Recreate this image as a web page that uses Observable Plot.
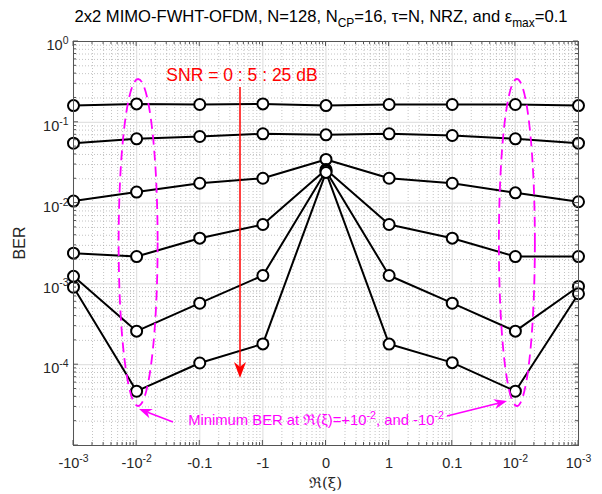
<!DOCTYPE html>
<html>
<head>
<meta charset="utf-8">
<script src="https://cdn.jsdelivr.net/npm/d3@7"></script>
<script src="https://cdn.jsdelivr.net/npm/@observablehq/plot@0.6"></script>
<style>
  body { margin: 0; background: #fff; }
  svg { display: block; }
</style>
</head>
<body>
<div id="chart"></div>
<script>
// Real part of the frequency offset, swept over a symmetric log-like scale
const categories = ["-10^{-3}", "-10^{-2}", "-0.1", "-1", "0", "1", "0.1", "10^{-2}", "10^{-3}"];
const snrValues = [0, 5, 10, 15, 20, 25];

// BER per SNR (dB), one value per category above
const ber0  = [0.161, 0.169, 0.166, 0.169, 0.161, 0.166, 0.166, 0.166, 0.161];
const ber5  = [0.0551, 0.0625, 0.0667, 0.0721, 0.0700, 0.0721, 0.0687, 0.0625, 0.0551];
const ber10 = [0.0106, 0.0137, 0.0176, 0.0203, 0.0347, 0.0203, 0.0176, 0.0134, 0.0104];
const ber15 = [0.00240, 0.00218, 0.00368, 0.00543, 0.0260, 0.00543, 0.00368, 0.00218, 0.00218];
const ber20 = [0.00124, 0.000260, 0.000577, 0.00127, 0.0250, 0.00127, 0.000577, 0.000260, 0.00093];
const ber25 = [0.00091, 0.0000470, 0.000105, 0.000181, 0.0240, 0.000180, 0.000106, 0.0000470, 0.000755];

const yTickValues = [1, 1e-1, 1e-2, 1e-3, 1e-4];

const berSeries = [ber0, ber5, ber10, ber15, ber20, ber25];
const rows = berSeries.flatMap((s, k) => s.map((v, i) => ({i, snr: snrValues[k], ber: v})));

const decades = [1e-5, 1e-4, 1e-3, 1e-2, 1e-1, 1];
const steps = [2, 3, 4, 5, 6, 7, 8, 9];
const minorY = decades.slice(0, -1).flatMap(d => steps.map(k => k * d));
const majorX = d3.range(categories.length);
const minorX = d3.range(categories.length - 1).flatMap(i => steps.map(k => i + Math.log10(k)));

const FONT = "'Liberation Sans', Arial, Helvetica, sans-serif";
const TICK = 14.5;

const plot = Plot.plot({
  width: 602,
  height: 494,
  marginTop: 41,
  marginRight: 24,
  marginBottom: 49,
  marginLeft: 73,
  style: {fontFamily: FONT, fontSize: TICK + "px", color: "#262626", background: "white"},
  x: {type: "linear", domain: [0, categories.length - 1]},
  y: {type: "log", domain: [1e-5, 1]},
  marks: [
    Plot.ruleX(minorX, {stroke: "#9a9a9a", strokeDasharray: "1,2", strokeWidth: 0.6}),
    Plot.ruleY(minorY, {stroke: "#9a9a9a", strokeDasharray: "1,2", strokeWidth: 0.6}),
    Plot.ruleX(majorX, {stroke: "#e2e2e2", strokeWidth: 1.2}),
    Plot.ruleY(decades, {stroke: "#e2e2e2", strokeWidth: 1.2}),
    Plot.axisX({ticks: majorX, tickSize: 0, tickPadding: 12, tickFormat: i => categories[i], label: null}),
    Plot.axisY({ticks: yTickValues, tickSize: 0, tickPadding: 5,
      tickFormat: d => `10^{${Math.round(Math.log10(d))}}`, label: null}),
    Plot.line(rows, {x: "i", y: "ber", z: "snr", stroke: "black", strokeWidth: 2}),
    Plot.dot(rows, {x: "i", y: "ber", r: 5.5, fill: "white", stroke: "black", strokeWidth: 2}),
    Plot.frame({stroke: "#555", strokeWidth: 1})
  ]
});

document.getElementById("chart").append(plot);

const svg = d3.select(plot);
const xs = plot.scale("x"), ys = plot.scale("y");
const X = v => xs.apply(v), Y = v => ys.apply(v);
const edgeL = X(0), edgeR = X(categories.length - 1), edgeT = Y(1), edgeB = Y(1e-5);

// Text with ^{..} superscripts and _{..} subscripts
function rich(sel, str, size) {
  sel.text(null);
  const re = /(\^|_)\{([^}]*)\}/g;
  let last = 0, m, shift = 0;
  const add = (txt, level) => {
    if (!txt) return;
    const ts = sel.append("tspan").text(txt);
    const target = level === "^" ? -0.42 * size : level === "_" ? 0.3 * size : 0;
    const dy = target - shift;
    if (dy) ts.attr("dy", dy);
    if (level) ts.attr("font-size", size * 0.72);
    shift = target;
  };
  while ((m = re.exec(str))) {
    add(str.slice(last, m.index), null);
    add(m[2], m[1]);
    last = re.lastIndex;
  }
  add(str.slice(last), null);
}

svg.selectAll('g[aria-label="x-axis tick label"] text').each(function() {
  rich(d3.select(this), this.textContent, TICK);
});
svg.selectAll('g[aria-label="y-axis tick label"] text').each(function() {
  rich(d3.select(this), this.textContent, TICK);
  const t = this.getAttribute("transform") || "";
  this.setAttribute("transform", t + " translate(0,4)");
});

// Inward ticks on all four sides
const tickLayer = svg.append("g").attr("stroke", "#555").attr("stroke-width", 1);
majorX.forEach(i => {
  tickLayer.append("line").attr("x1", X(i)).attr("x2", X(i)).attr("y1", edgeB).attr("y2", edgeB - 5);
  tickLayer.append("line").attr("x1", X(i)).attr("x2", X(i)).attr("y1", edgeT).attr("y2", edgeT + 5);
});
minorX.forEach(v => {
  tickLayer.append("line").attr("x1", X(v)).attr("x2", X(v)).attr("y1", edgeB).attr("y2", edgeB - 3);
  tickLayer.append("line").attr("x1", X(v)).attr("x2", X(v)).attr("y1", edgeT).attr("y2", edgeT + 3);
});
decades.forEach(d => {
  tickLayer.append("line").attr("x1", edgeL).attr("x2", edgeL + 5).attr("y1", Y(d)).attr("y2", Y(d));
  tickLayer.append("line").attr("x1", edgeR).attr("x2", edgeR - 5).attr("y1", Y(d)).attr("y2", Y(d));
});
minorY.forEach(d => {
  tickLayer.append("line").attr("x1", edgeL).attr("x2", edgeL + 3).attr("y1", Y(d)).attr("y2", Y(d));
  tickLayer.append("line").attr("x1", edgeR).attr("x2", edgeR - 3).attr("y1", Y(d)).attr("y2", Y(d));
});

// Title and axis labels
const title = svg.append("text").attr("x", 321).attr("y", 22).attr("text-anchor", "middle")
  .attr("font-family", FONT).attr("font-size", 16.6).attr("fill", "#000");
rich(title, "2x2 MIMO-FWHT-OFDM, N=128, N_{CP}=16, \u03C4=N, NRZ, and \u03B5_{max}=0.1", 16.6);

svg.append("text").attr("transform", `translate(25,${(edgeT + edgeB) / 2}) rotate(-90)`)
  .attr("text-anchor", "middle").attr("font-family", FONT).attr("font-size", 16)
  .attr("fill", "#262626").text("BER");

svg.append("text").attr("x", (edgeL + edgeR) / 2).attr("y", 488).attr("text-anchor", "middle")
  .attr("font-family", "'DejaVu Serif', serif").attr("font-size", 15)
  .attr("fill", "#262626").text("\u211C(\u03BE)");

// Annotation layer
const ann = svg.append("g");
const MAG = "#ff00ff", RED = "#ff0000";

function arrowHead(g, x1, y1, x2, y2, len, wid, color) {
  const a = Math.atan2(y2 - y1, x2 - x1);
  const c = Math.cos(a), s = Math.sin(a);
  const bx = x2 - len * c, by = y2 - len * s;
  const nx = x2 - len * 0.7 * c, ny = y2 - len * 0.7 * s;
  const pts = [[x2, y2], [bx - wid / 2 * s, by + wid / 2 * c], [nx, ny], [bx + wid / 2 * s, by - wid / 2 * c]];
  g.append("polygon").attr("points", pts.map(p => p.join(",")).join(" ")).attr("fill", color);
  g.append("line").attr("x1", x1).attr("y1", y1).attr("x2", nx).attr("y2", ny)
    .attr("stroke", color).attr("stroke-width", 1.5);
}

// Dashed ellipses around the minimum-BER columns
[[1, 19.5], [7, 18]].forEach(([i, rx]) => {
  ann.append("ellipse").attr("cx", X(i) + 2).attr("cy", 242.5).attr("rx", rx).attr("ry", 163.5)
    .attr("fill", "none").attr("stroke", MAG).attr("stroke-width", 1.8).attr("stroke-dasharray", "10,6");
});

// SNR sweep arrow
ann.append("text").attr("x", 242).attr("y", 81).attr("text-anchor", "middle")
  .attr("font-family", FONT).attr("font-size", 17.5).attr("fill", RED).text("SNR = 0 : 5 : 25 dB");
arrowHead(ann, 240, 87, 240, 378, 16, 12, RED);

// Minimum-BER note
const note = ann.append("text").attr("x", 316).attr("y", 425).attr("text-anchor", "middle")
  .attr("font-family", FONT).attr("font-size", 14.8).attr("fill", MAG);
rich(note, "Minimum BER at \u211C(\u03BE)=+10^{-2}, and -10^{-2}", 14.8);
arrowHead(ann, 173, 422, 139, 409, 13, 10, MAG);
arrowHead(ann, 447, 416, 507, 401, 13, 10, MAG);
</script>
</body>
</html>
